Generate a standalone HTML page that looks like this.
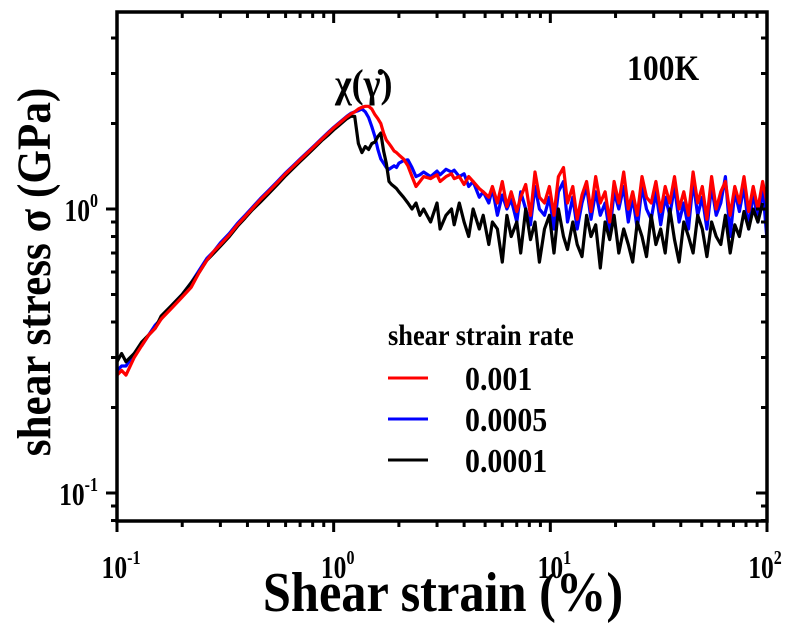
<!DOCTYPE html>
<html><head><meta charset="utf-8">
<style>
html,body{margin:0;padding:0;background:#fff;}
svg{display:block;}
text{font-family:"Liberation Serif",serif;font-weight:bold;fill:#000;}
</style></head>
<body>
<svg id="chart" width="790" height="626" viewBox="0 0 790 626" xmlns="http://www.w3.org/2000/svg">
  <g id="series"></g>
  <g id="axes"></g>
  <rect x="117" y="12" width="650" height="509" fill="none" stroke="#000" stroke-width="3.5"/>
  <text transform="translate(627,80) scale(0.88,1)" font-size="36">100K</text>
  <text transform="translate(335,97) scale(0.9,1)" font-size="40">χ(γ̇)</text>
  <text transform="translate(443,611) scale(0.9,1)" font-size="56" text-anchor="middle">Shear strain (%)</text>
  <text transform="translate(50,272) rotate(-90) scale(0.9,1)" font-size="48" text-anchor="middle">shear stress σ  (GPa)</text>
  <g>
    <text transform="translate(388,345) scale(0.88,1)" font-size="30">shear strain rate</text>
    <line x1="388" y1="378" x2="428" y2="378" stroke="#ff0000" stroke-width="3"/>
    <text transform="translate(465,390) scale(0.88,1)" font-size="34">0.001</text>
    <line x1="388" y1="419" x2="428" y2="419" stroke="#0000ff" stroke-width="3"/>
    <text transform="translate(465,431) scale(0.88,1)" font-size="34">0.0005</text>
    <line x1="388" y1="460" x2="428" y2="460" stroke="#000" stroke-width="3"/>
    <text transform="translate(465,472) scale(0.88,1)" font-size="34">0.0001</text>
  </g>
</svg>
<script>
const strain = [0.10,0.105,0.11,0.12,0.13,0.14,0.15,0.16,0.18,0.20,0.22,0.24,0.26,0.28,0.30,0.33,0.36,0.39,0.42,0.46,0.50,0.55,0.60,0.65,0.70,0.76,0.82,0.88,0.95,1.0,1.05,1.1,1.15,1.2,
1.25,1.3,1.35,1.4,1.45,1.5,1.55,1.6,1.65,1.7,1.75,1.8,1.85,1.9,1.95,
2.0,2.1,2.2,2.3,2.4,2.5,2.6,2.8,3.0,3.1,3.3,3.5,3.6,3.8,4.0,4.2,4.4,4.7,4.9,5.2,5.4,5.7,6.0,6.3,6.6,7.0,7.3,7.7,8.1,8.5,8.9,9.4,9.9,10.4,10.9,11.5,12,12.7,13.3,14,14.7,15.4,16.2,17,17.9,18.8,19.7,20.7,21.8,22.9,24,25.2,26.5,27.8,29.2,30.7,32.3,33.9,35.6,37.4,39.3,41.3,43.4,45.6,47.9,50.3,52.8,55.5,58.3,61.2,64.3,67.6,71,74.6,78.3,82.3,86.4,90.8,95.4,100];

const stressRed = [0.26,0.27,0.26,0.30,0.33,0.36,0.38,0.41,0.45,0.49,0.53,0.60,0.66,0.71,0.75,0.81,0.88,0.94,1.00,1.08,1.15,1.24,1.33,1.41,1.49,1.58,1.67,1.76,1.86,1.93,1.99,2.05,2.11,2.16,
2.2,2.25,2.28,2.3,2.3,2.25,2.15,2.08,2.0,1.85,1.75,1.7,1.65,1.6,1.58,
1.55,1.5,1.42,1.3,1.2,1.25,1.3,1.28,1.32,1.25,1.3,1.33,1.28,1.3,1.22,1.3,1.25,1.18,1.15,1.1,1.2,1.05,1.25,1.02,1.15,0.98,1.1,1.22,0.95,1.35,1.1,1.05,1.2,0.95,1.3,1.4,1.05,1.2,0.92,1.12,1.25,0.98,1.3,1.05,1.15,0.9,1.25,1.05,1.35,1.0,1.15,0.95,1.3,1.1,1.05,1.25,0.98,1.2,1.05,1.3,1.0,1.15,0.95,1.35,1.05,1.2,0.92,1.3,1.0,1.15,1.25,0.95,1.2,1.05,1.3,0.98,1.2,1.0,1.25,1.05];

const stressBlue = [0.27,0.28,0.28,0.31,0.33,0.36,0.39,0.41,0.46,0.50,0.55,0.61,0.67,0.71,0.76,0.82,0.89,0.95,1.01,1.09,1.16,1.25,1.34,1.42,1.50,1.59,1.68,1.77,1.87,1.94,2.0,2.06,2.12,2.17,
2.2,2.22,2.25,2.2,2.1,1.95,1.8,1.62,1.5,1.45,1.4,1.38,1.4,1.42,1.4,
1.45,1.48,1.49,1.4,1.3,1.32,1.35,1.3,1.36,1.32,1.38,1.35,1.37,1.3,1.33,1.2,1.25,1.1,1.15,1.05,1.18,0.95,1.12,1.0,1.08,0.9,1.15,1.0,0.88,1.2,1.0,0.95,1.1,0.85,1.15,1.25,0.9,1.1,0.85,1.05,1.2,0.92,1.15,0.95,1.05,0.82,1.15,1.0,1.2,0.9,1.1,0.85,1.2,1.0,0.92,1.15,0.88,1.1,0.95,1.2,0.9,1.05,0.85,1.25,0.95,1.1,0.85,1.2,0.95,1.05,1.3,0.8,1.15,0.98,1.2,0.85,1.15,0.9,1.2,0.78];

const stressBlack = [0.29,0.31,0.29,0.31,0.34,0.36,0.38,0.42,0.46,0.50,0.55,0.60,0.66,0.70,0.74,0.80,0.87,0.93,0.99,1.06,1.13,1.22,1.31,1.39,1.47,1.56,1.65,1.74,1.83,1.90,1.96,2.02,2.08,2.12,
2.12,1.7,1.58,1.66,1.62,1.7,1.72,1.8,1.85,1.6,1.45,1.25,1.22,1.2,1.18,
1.15,1.1,1.05,1.0,1.05,0.95,1.0,0.9,1.05,0.85,0.95,1.0,0.88,1.05,0.9,0.8,1.0,0.85,0.95,0.75,0.9,0.85,0.65,0.95,0.8,0.9,0.7,1.0,0.78,0.9,0.65,0.85,0.95,0.7,1.0,0.8,0.72,0.9,0.75,0.68,0.95,0.8,0.88,0.62,0.9,0.78,0.95,0.7,0.85,0.75,0.65,0.9,0.8,0.68,0.95,0.75,0.85,0.7,1.0,0.78,0.65,0.9,0.8,0.7,0.95,0.85,0.68,0.9,0.8,0.75,0.95,0.7,0.88,0.8,0.98,0.85,1.0,0.9,1.05];

const xTickExps = [-1,0,1,2];
const yTickExps = [-1,0];

const NS = "http://www.w3.org/2000/svg";
const L=117,R=767,T=12,B=521;
const xLogMin=-1, xLogMax=2;
const y0pix=209, yDec=284;
function xs(v){return L+(Math.log10(v)-xLogMin)/(xLogMax-xLogMin)*(R-L);}
function ys(v){return y0pix-Math.log10(v)*yDec;}

const series=document.getElementById('series');
function drawSeries(vals,color,name){
  let d='';
  for(let i=0;i<strain.length;i++){d+=(i?'L':'M')+xs(strain[i]).toFixed(1)+','+ys(vals[i]).toFixed(1);}
  const p=document.createElementNS(NS,'path');
  p.setAttribute('d',d);p.setAttribute('fill','none');p.setAttribute('stroke',color);
  p.setAttribute('stroke-width','3.2');p.setAttribute('stroke-linejoin','round');
  
  
  series.appendChild(p);
}
drawSeries(stressBlue,'#0000ff','series-rate-0.0005');
drawSeries(stressBlack,'#000000','series-rate-0.0001');
drawSeries(stressRed,'#ff0000','series-rate-0.001');

const axes=document.getElementById('axes');
function ln(x1,y1,x2,y2,name){
  const l=document.createElementNS(NS,'line');
  l.setAttribute('x1',x1);l.setAttribute('y1',y1);l.setAttribute('x2',x2);l.setAttribute('y2',y2);
  l.setAttribute('stroke','#000');l.setAttribute('stroke-width','3');
  
  
  axes.appendChild(l);
}
function label(x,y,exp,anchor,name){
  const t=document.createElementNS(NS,'text');
  t.setAttribute('transform','translate('+x+','+y+') scale(0.8,1)');
  t.setAttribute('font-size','32');t.setAttribute('text-anchor',anchor);
  t.innerHTML='10<tspan font-size="20" dy="-14">'+exp+'</tspan>';
  
  
  axes.appendChild(t);
}
for(let e=-1;e<2;e++){
  for(let m=2;m<=9;m++){
    const x=xs(m*Math.pow(10,e));
    ln(x,B,x,B+6,'x-minor-tick');ln(x,T,x,T+6,'x-minor-tick-top');
  }
}
xTickExps.forEach(e=>{
  const x=xs(Math.pow(10,e));
  ln(x,B,x,B+11,'x-major-tick');ln(x,T,x,T+11,'x-major-tick-top');
  label(e===2?x-2:x+4,578,e,'middle','x-tick-label');
});
for(let e=-2;e<1;e++){
  for(let m=2;m<=9;m++){
    const v=m*Math.pow(10,e);const y=ys(v);
    if(y<T||y>B)continue;
    ln(L-6,y,L,y,'y-minor-tick');ln(R-6,y,R,y,'y-minor-tick-right');
  }
}
yTickExps.forEach(e=>{
  const y=ys(Math.pow(10,e));
  ln(L-11,y,L,y,'y-major-tick');ln(R-11,y,R,y,'y-major-tick-right');
  label(98,y+12,e,'end','y-tick-label');
});
</script>
</body></html>
